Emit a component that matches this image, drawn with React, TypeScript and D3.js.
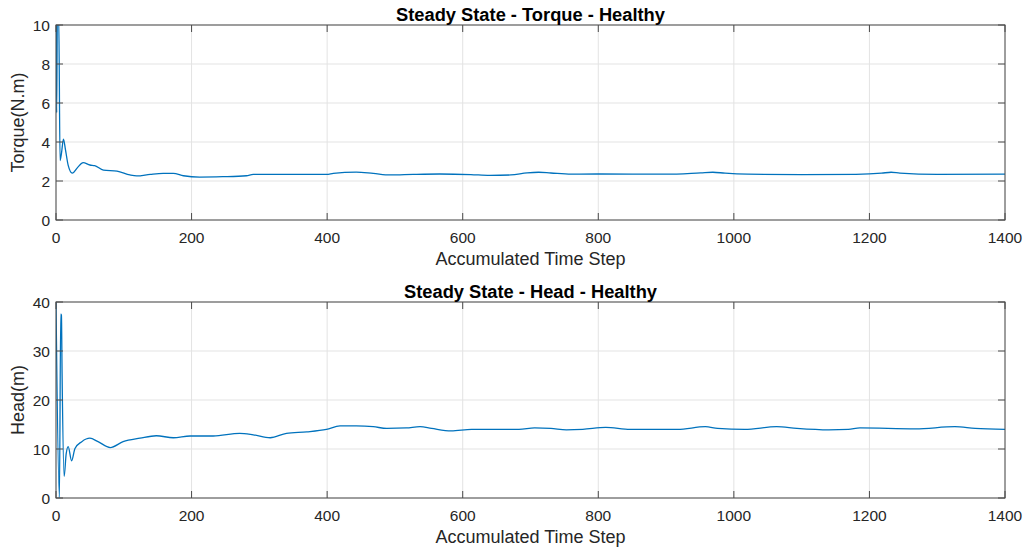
import React from "react";
import * as d3 from "d3";

const torqueSteps = [0, 1, 2, 4, 6, 8, 11, 14, 18, 24, 32, 40, 50, 57, 70, 90, 109, 119, 139, 158, 173, 188, 212, 246, 281, 291, 399, 409, 443, 468, 493, 527, 566, 612, 640, 671, 695, 712, 730, 760, 800, 900, 951, 969, 987, 1020, 1100, 1180, 1218, 1232, 1245, 1300, 1400];
const torqueValues = [10.5, 5.5, 10.5, 10.5, 3.05, 3.4, 4.15, 3.6, 2.8, 2.4, 2.7, 2.94, 2.82, 2.79, 2.56, 2.51, 2.31, 2.26, 2.34, 2.39, 2.39, 2.27, 2.2, 2.22, 2.27, 2.34, 2.34, 2.39, 2.46, 2.39, 2.31, 2.34, 2.36, 2.33, 2.29, 2.31, 2.42, 2.45, 2.41, 2.35, 2.36, 2.35, 2.42, 2.45, 2.4, 2.35, 2.33, 2.34, 2.4, 2.45, 2.4, 2.34, 2.35];

const headSteps = [0, 5, 7, 8, 9, 12, 15, 18, 23, 28, 38, 50, 62, 80, 99, 124, 148, 173, 198, 232, 271, 291, 316, 340, 370, 399, 419, 443, 468, 488, 517, 537, 554, 583, 613, 683, 706, 730, 753, 777, 811, 847, 917, 958, 976, 1016, 1063, 1093, 1140, 1169, 1186, 1268, 1326, 1356, 1400];
const headValues = [40, 0, 37.5, 37.3, 25, 4.4, 9, 10.5, 7.6, 10.1, 11.5, 12.2, 11.5, 10.3, 11.5, 12.2, 12.7, 12.3, 12.65, 12.65, 13.2, 12.9, 12.3, 13.2, 13.5, 14.0, 14.7, 14.7, 14.55, 14.2, 14.3, 14.55, 14.2, 13.7, 14.0, 14.0, 14.3, 14.2, 13.9, 14.0, 14.4, 14.0, 14.0, 14.55, 14.2, 14.0, 14.55, 14.2, 13.9, 14.0, 14.3, 14.1, 14.55, 14.2, 14.0];

const xTicks = [0, 200, 400, 600, 800, 1000, 1200, 1400];
const torqueTicks = [0, 2, 4, 6, 8, 10];
const headTicks = [0, 10, 20, 30, 40];

const FONT = "'Liberation Sans', Arial, Helvetica, sans-serif";
const TXT = "#262626";
const AX = "#4a4a4a";

type PanelProps = {
  id: string;
  top: number;
  bottom: number;
  steps: number[];
  values: number[];
  yMax: number;
  yTicks: number[];
  title: string;
  yLabel: string;
};

function Panel({ id, top, bottom, steps, values, yMax, yTicks, title, yLabel }: PanelProps) {
  const left = 56;
  const right = 1005;
  const x = d3.scaleLinear().domain([0, 1400]).range([left, right]);
  const y = d3.scaleLinear().domain([0, yMax]).range([bottom, top]);
  const pts = steps.map((s, i) => [s, values[i]] as [number, number]);
  const line = d3
    .line<[number, number]>()
    .x((d) => x(d[0]))
    .y((d) => y(d[1]))
    .curve(d3.curveMonotoneX);
  const tl = 7;
  return (
    <g>
      <defs>
        <clipPath id={id}>
          <rect x={left} y={top} width={right - left} height={bottom - top} />
        </clipPath>
      </defs>
      <rect x={left} y={top} width={right - left} height={bottom - top} fill="#fff" />
      {xTicks.map((t) => (
        <line key={"gx" + t} x1={x(t)} x2={x(t)} y1={top} y2={bottom} stroke="#e3e3e3" strokeWidth={1} />
      ))}
      {yTicks.map((t) => (
        <line key={"gy" + t} x1={left} x2={right} y1={y(t)} y2={y(t)} stroke="#e3e3e3" strokeWidth={1} />
      ))}
      <path d={line(pts) || ""} fill="none" stroke="#0072BD" strokeWidth={1.3} clipPath={`url(#${id})`} strokeLinejoin="round" />
      <rect x={left} y={top} width={right - left} height={bottom - top} fill="none" stroke={AX} strokeWidth={1} />
      {xTicks.map((t) => (
        <g key={"tx" + t}>
          <line x1={x(t)} x2={x(t)} y1={bottom} y2={bottom - tl} stroke={AX} />
          <line x1={x(t)} x2={x(t)} y1={top} y2={top + tl} stroke={AX} />
          <text x={x(t)} y={bottom + 23} textAnchor="middle" fontFamily={FONT} fontSize={15.5} fill={TXT}>
            {t}
          </text>
        </g>
      ))}
      {yTicks.map((t) => (
        <g key={"ty" + t}>
          <line x1={left} x2={left + tl} y1={y(t)} y2={y(t)} stroke={AX} />
          <line x1={right} x2={right - tl} y1={y(t)} y2={y(t)} stroke={AX} />
          <text x={left - 6} y={y(t) + 5.5} textAnchor="end" fontFamily={FONT} fontSize={15.5} fill={TXT}>
            {t}
          </text>
        </g>
      ))}
      <text x={(left + right) / 2} y={top - 4.5} textAnchor="middle" fontFamily={FONT} fontSize={18.3} fontWeight="bold" fill="#000">
        {title}
      </text>
      <text x={(left + right) / 2} y={bottom + 45} textAnchor="middle" fontFamily={FONT} fontSize={18} fill={TXT}>
        Accumulated Time Step
      </text>
      <text
        transform={`translate(24,${(top + bottom) / 2}) rotate(-90)`}
        textAnchor="middle"
        fontFamily={FONT}
        fontSize={18}
        fill={TXT}
      >
        {yLabel}
      </text>
    </g>
  );
}

export default function App() {
  return (
    <svg
      width={1027}
      height={552}
      style={{ position: "absolute", left: 0, top: 0, background: "#fff" }}
    >
      <rect x={0} y={0} width={1027} height={552} fill="#fff" />
      <Panel
        id="clipTorque"
        top={25}
        bottom={220}
        steps={torqueSteps}
        values={torqueValues}
        yMax={10}
        yTicks={torqueTicks}
        title="Steady State - Torque - Healthy"
        yLabel="Torque(N.m)"
      />
      <Panel
        id="clipHead"
        top={302}
        bottom={498}
        steps={headSteps}
        values={headValues}
        yMax={40}
        yTicks={headTicks}
        title="Steady State - Head - Healthy"
        yLabel="Head(m)"
      />
    </svg>
  );
}
